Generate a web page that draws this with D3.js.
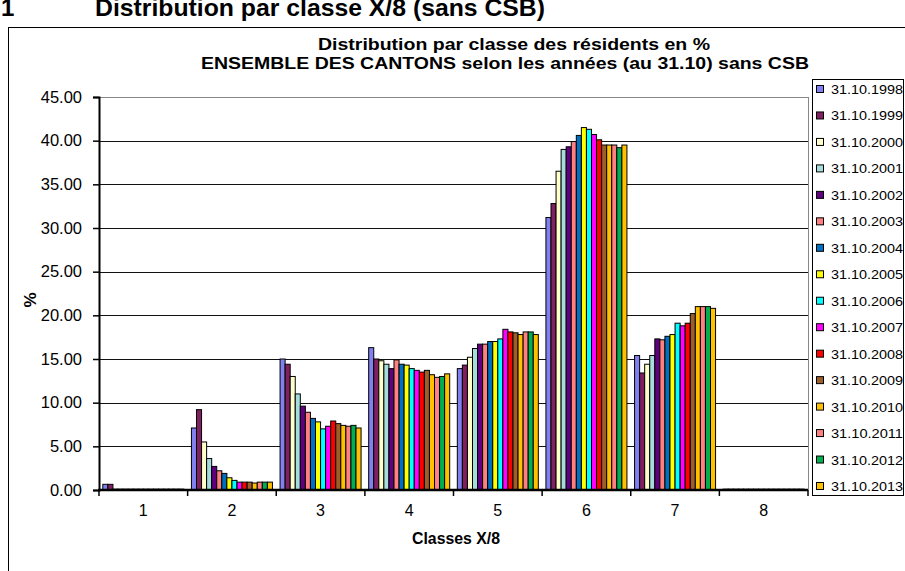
<!DOCTYPE html>
<html>
<head>
<meta charset="utf-8">
<script src="https://cdn.jsdelivr.net/npm/d3@7"></script>
<style>
  html, body { margin: 0; padding: 0; background: #fff; overflow: hidden; }
  svg { display: block; font-family: 'Liberation Sans', Arial, sans-serif; }
</style>
</head>
<body>
<div id="chart"></div>
<script>
// ─── Data ─────────────────────────────────────────────────────────────────────
const classes = ['1', '2', '3', '4', '5', '6', '7', '8']
const years = [
  '31.10.1998', '31.10.1999', '31.10.2000', '31.10.2001',
  '31.10.2002', '31.10.2003', '31.10.2004', '31.10.2005',
  '31.10.2006', '31.10.2007', '31.10.2008', '31.10.2009',
  '31.10.2010', '31.10.2011', '31.10.2012', '31.10.2013',
]
const colors = [
  '#8080f0', '#802060', '#ffffcc', '#a6dcdc',
  '#600080', '#ff8080', '#0070c0', '#ffff00',
  '#00ffff', '#ff00ff', '#ff0000', '#9c5f2a',
  '#ffc000', '#ff8080', '#00b050', '#ffc000',
]
// one row per class, one value per year (%)
const class1 = [0.65, 0.65, 0.1, 0.1, 0.1, 0.1, 0.1, 0.1, 0.1, 0.1, 0.1, 0.1, 0.1, 0.1, 0.1, 0.1]
const class2 = [7.1, 9.2, 5.5, 3.6, 2.7, 2.2, 1.9, 1.4, 1.1, 0.9, 0.9, 0.9, 0.8, 0.9, 0.9, 0.9]
const class3 = [15.0, 14.4, 13.0, 11.0, 9.6, 8.9, 8.2, 7.8, 7.0, 7.3, 7.9, 7.6, 7.4, 7.3, 7.4, 7.1]
const class4 = [16.3, 15.0, 14.8, 14.4, 13.9, 14.9, 14.4, 14.3, 13.9, 13.7, 13.5, 13.7, 13.2, 12.9, 13.0, 13.3]
const class5 = [13.9, 14.3, 15.2, 16.2, 16.7, 16.7, 17.0, 17.0, 17.3, 18.4, 18.1, 18.0, 17.8, 18.1, 18.1, 17.8]
const class6 = [31.2, 32.8, 36.5, 39.0, 39.3, 39.9, 40.6, 41.5, 41.3, 40.7, 40.1, 39.5, 39.5, 39.5, 39.2, 39.5]
const class7 = [15.4, 13.4, 14.4, 15.4, 17.3, 17.2, 17.6, 17.8, 19.1, 18.8, 19.1, 20.2, 21.0, 21.0, 21.0, 20.8]
const class8 = [0.1, 0.1, 0.1, 0.1, 0.1, 0.1, 0.1, 0.1, 0.1, 0.1, 0.1, 0.1, 0.1, 0.1, 0.1, 0.1]
const values = [class1, class2, class3, class4, class5, class6, class7, class8]
const yTicks = [0, 5, 10, 15, 20, 25, 30, 35, 40, 45]

// ─── Layout ───────────────────────────────────────────────────────────────────
const W = 905, H = 571
const plot = { left: 99, right: 808, top: 97, bottom: 490 }

const svg = d3.select('#chart').append('svg')
  .attr('width', W).attr('height', H)

// ── Page heading (the page is cropped through it, as in the source) ─────────
svg.append('text')
  .attr('x', 1).attr('y', 16)
  .attr('font-size', 24).attr('font-weight', 'bold')
  .text('1')
svg.append('text')
  .attr('x', 95).attr('y', 16)
  .attr('font-size', 24).attr('font-weight', 'bold')
  .attr('textLength', 450).attr('lengthAdjust', 'spacingAndGlyphs')
  .text('Distribution par classe X/8 (sans CSB)')

// ── Chart frame ─────────────────────────────────────────────────────────────
svg.append('rect')
  .attr('x', 8.5).attr('y', 27.5)
  .attr('width', 1000).attr('height', 600)
  .attr('fill', '#fff').attr('stroke', '#000').attr('stroke-width', 1)

// ── Title ───────────────────────────────────────────────────────────────────
const title = svg.append('g')
  .attr('font-size', 17).attr('font-weight', 'bold').attr('text-anchor', 'middle')
title.append('text').attr('x', 514).attr('y', 50)
  .attr('textLength', 392).attr('lengthAdjust', 'spacingAndGlyphs')
  .text('Distribution par classe des résidents en %')
title.append('text').attr('x', 505).attr('y', 69)
  .attr('textLength', 608).attr('lengthAdjust', 'spacingAndGlyphs')
  .text('ENSEMBLE DES CANTONS selon les années (au 31.10) sans CSB')

// ── Scales ──────────────────────────────────────────────────────────────────
const x0 = d3.scaleBand()
  .domain(classes)
  .range([plot.left, plot.right])
  .paddingInner(0.086)
  .paddingOuter(0.043)

const x1 = d3.scaleBand()
  .domain(years)
  .range([0, x0.bandwidth()])

const y = d3.scaleLinear()
  .domain([0, 45])
  .range([plot.bottom, plot.top])

// ── Gridlines ───────────────────────────────────────────────────────────────
svg.append('g')
  .selectAll('line')
  .data(yTicks.filter(t => t > 0))
  .join('line')
  .attr('x1', plot.left).attr('x2', plot.right)
  .attr('y1', d => Math.round(y(d)) + 0.5)
  .attr('y2', d => Math.round(y(d)) + 0.5)
  .attr('stroke', d => d === 45 ? '#888' : '#111')
  .attr('stroke-width', 1)

// right edge of plot area
svg.append('line')
  .attr('x1', plot.right + 0.5).attr('x2', plot.right + 0.5)
  .attr('y1', y(45)).attr('y2', plot.bottom)
  .attr('stroke', '#888')

// ── Bars ────────────────────────────────────────────────────────────────────
svg.append('g')
  .selectAll('g')
  .data(classes)
  .join('g')
  .attr('transform', d => `translate(${x0(d)},0)`)
  .selectAll('rect')
  .data((c, i) => values[i].map((v, j) => ({ year: years[j], v, color: colors[j] })))
  .join('rect')
  .attr('x', d => x1(d.year))
  .attr('width', x1.bandwidth())
  .attr('y', d => y(d.v))
  .attr('height', d => y(0) - y(d.v))
  .attr('fill', d => d.color)
  .attr('stroke', '#000')
  .attr('stroke-width', 1)

// ── Axes ────────────────────────────────────────────────────────────────────
const yAxis = svg.append('g')
  .attr('transform', `translate(${plot.left},0)`)
  .call(d3.axisLeft(y).tickValues(yTicks).tickFormat(d3.format('.2f')).tickSize(6).tickPadding(11))
yAxis.select('.domain').attr('stroke', '#000').attr('stroke-width', 2)
yAxis.selectAll('.tick line').attr('stroke', '#000').attr('stroke-width', 1.5)
yAxis.selectAll('text')
  .attr('font-size', 16.5).attr('fill', '#000')
  .attr('font-family', "'Liberation Sans', Arial, sans-serif")

// category boundaries carry the ticks
const step = x0.step()
const bounds = d3.range(classes.length + 1).map(i => plot.left + i * step)

const xAxis = svg.append('g')
xAxis.append('line')
  .attr('x1', plot.left - 1).attr('x2', plot.right)
  .attr('y1', plot.bottom).attr('y2', plot.bottom)
  .attr('stroke', '#000').attr('stroke-width', 2.5)
xAxis.selectAll('.xt')
  .data(bounds)
  .join('line')
  .attr('x1', d => d).attr('x2', d => d)
  .attr('y1', plot.bottom).attr('y2', plot.bottom + 6)
  .attr('stroke', '#000').attr('stroke-width', 1.5)
xAxis.selectAll('text')
  .data(classes)
  .join('text')
  .attr('x', d => x0(d) + x0.bandwidth() / 2)
  .attr('y', plot.bottom + 26)
  .attr('text-anchor', 'middle')
  .attr('font-size', 16)
  .text(d => d)

// ── Axis titles ─────────────────────────────────────────────────────────────
svg.append('text')
  .attr('x', 456).attr('y', 544)
  .attr('text-anchor', 'middle')
  .attr('font-size', 17).attr('font-weight', 'bold')
  .attr('textLength', 88).attr('lengthAdjust', 'spacingAndGlyphs')
  .text('Classes X/8')

svg.append('text')
  .attr('transform', 'translate(36,300) rotate(-90)')
  .attr('text-anchor', 'middle')
  .attr('font-size', 17).attr('font-weight', 'bold')
  .text('%')

// ── Legend ──────────────────────────────────────────────────────────────────
const legend = svg.append('g')
legend.append('rect')
  .attr('x', 812.5).attr('y', 79.5)
  .attr('width', 91).attr('height', 416)
  .attr('fill', '#fff').attr('stroke', '#000')

const legStep = (486 - 89) / (years.length - 1)
const items = legend.selectAll('.item')
  .data(years)
  .join('g')
  .attr('transform', (d, i) => `translate(816,${89 + i * legStep})`)
items.append('rect')
  .attr('x', 0.5).attr('y', -3.5)
  .attr('width', 7).attr('height', 7)
  .attr('fill', (d, i) => colors[i])
  .attr('stroke', '#000')
items.append('text')
  .attr('x', 15).attr('y', 5)
  .attr('font-size', 13.5)
  .attr('textLength', 72).attr('lengthAdjust', 'spacingAndGlyphs')
  .text(d => d)
</script>
</body>
</html>
